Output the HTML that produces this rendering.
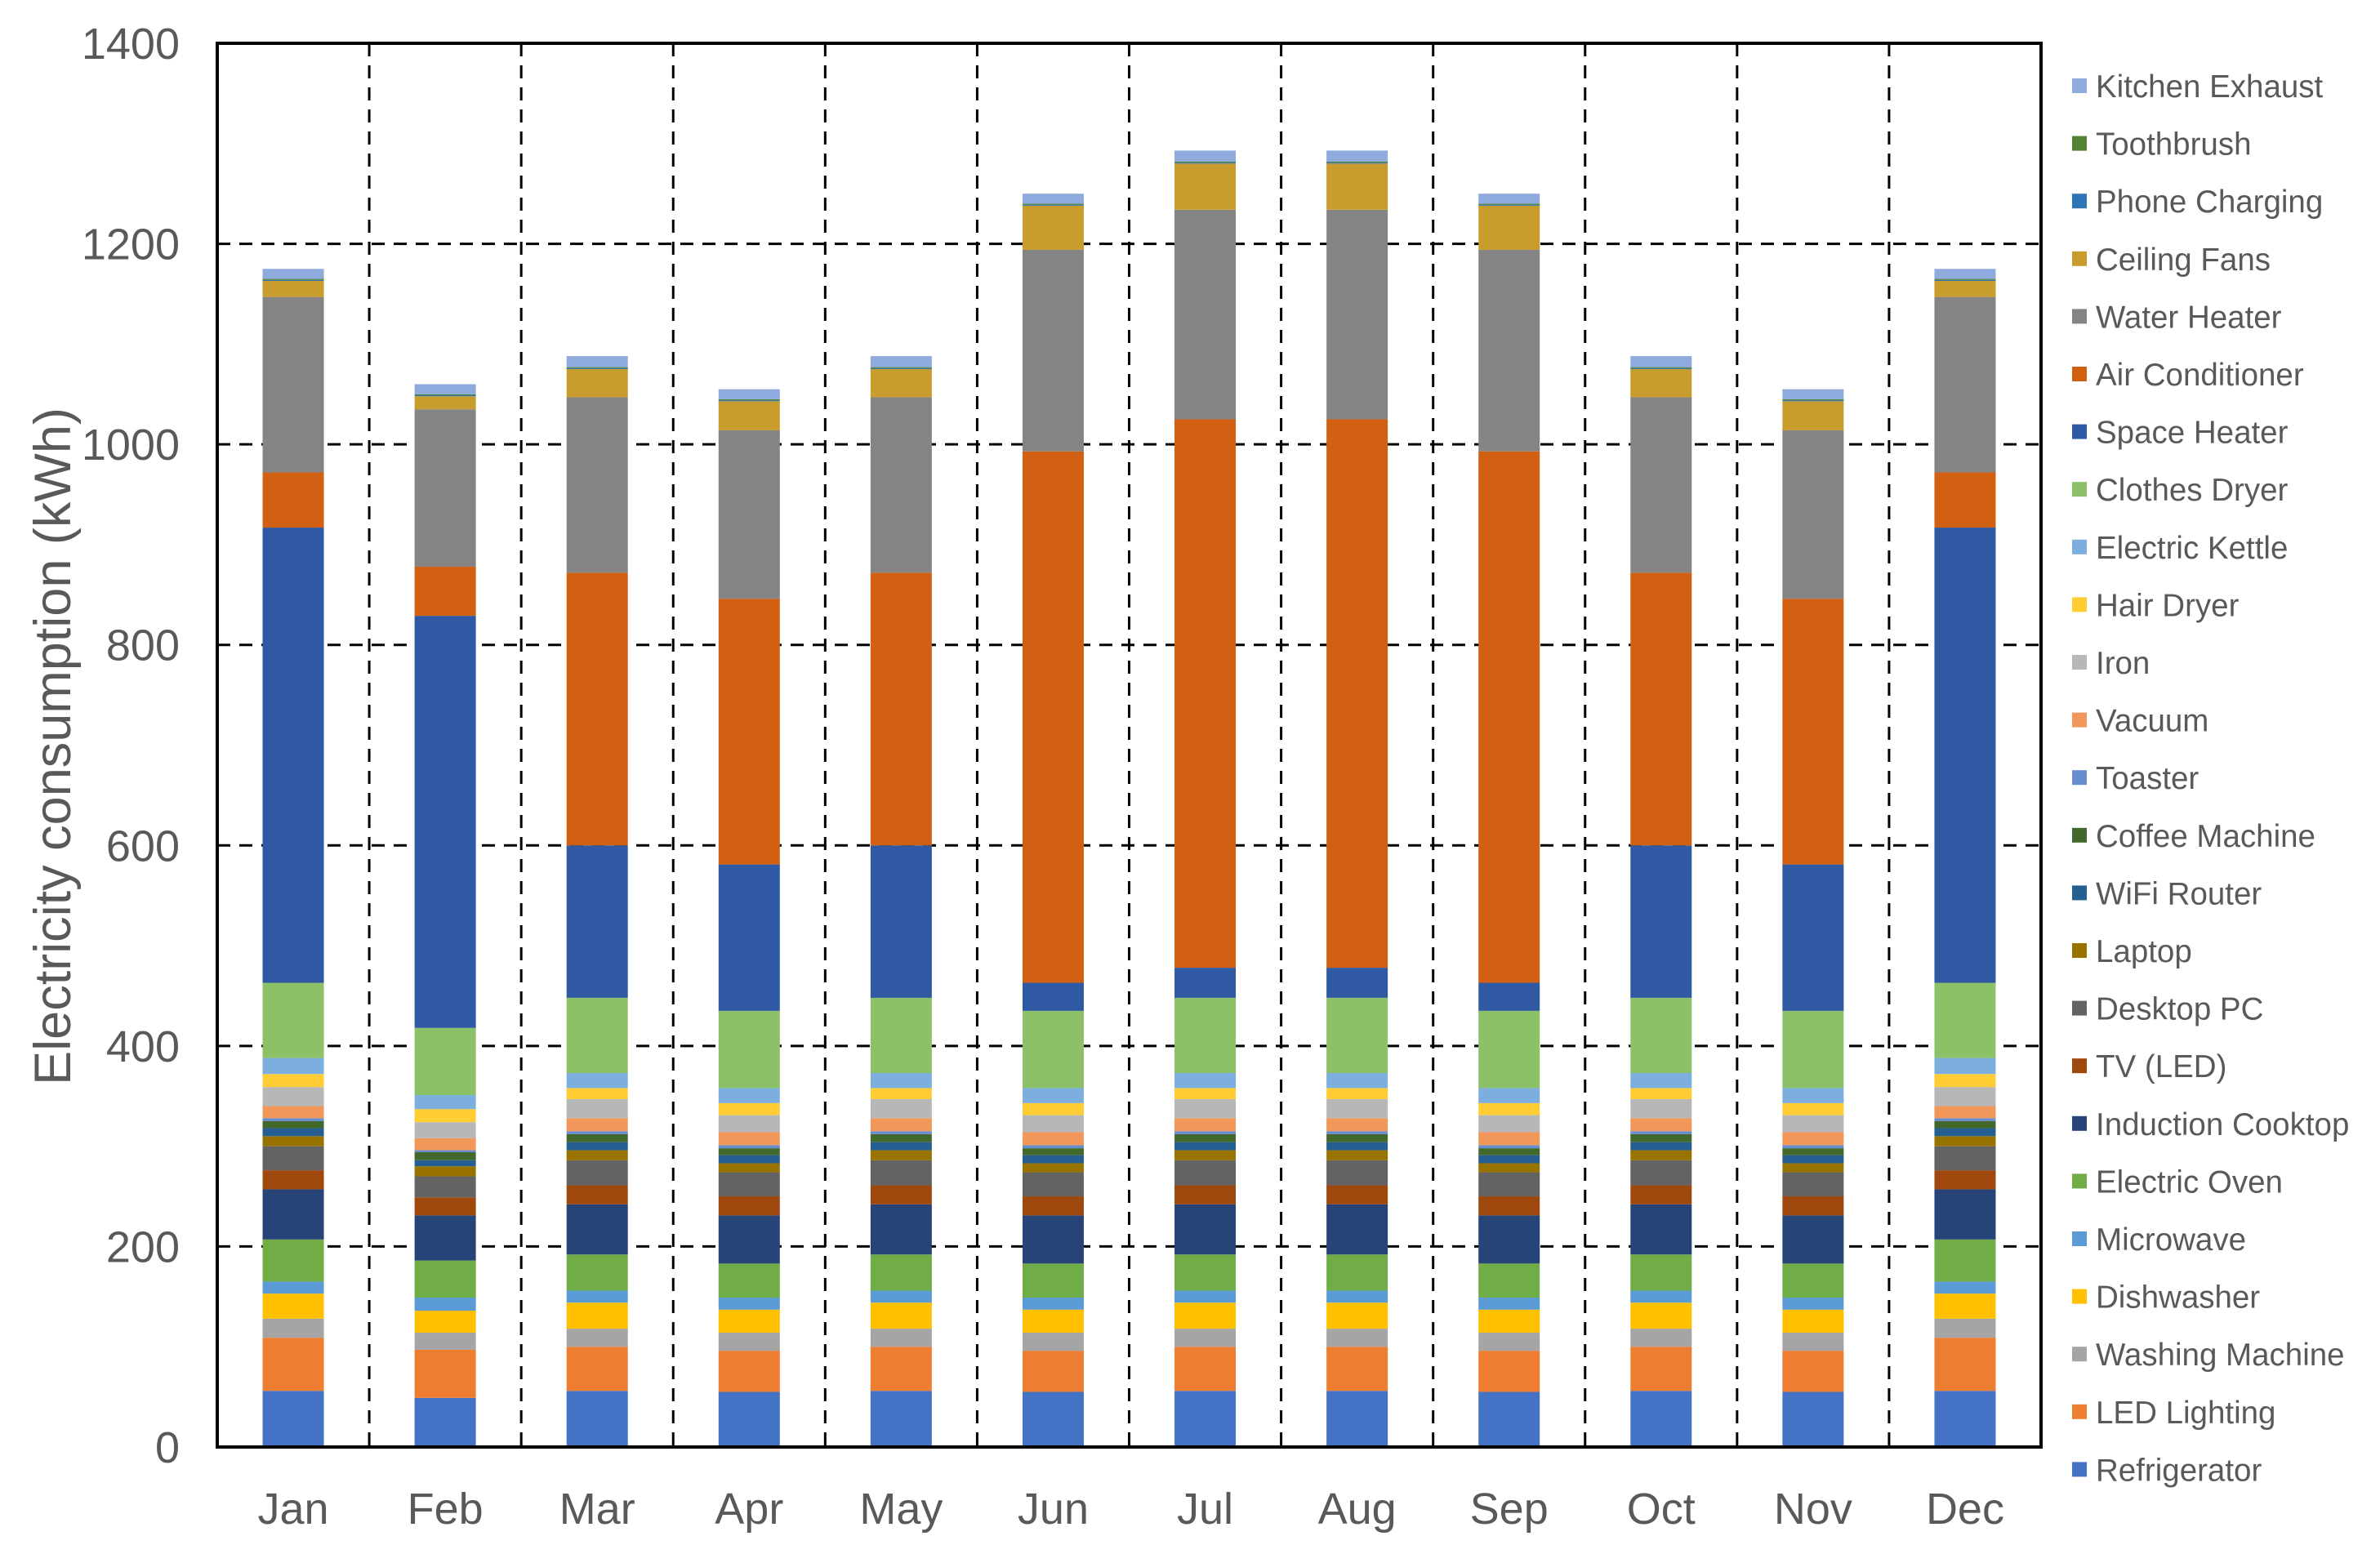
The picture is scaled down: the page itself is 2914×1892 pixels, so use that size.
<!DOCTYPE html>
<html><head><meta charset="utf-8"><style>
html,body{margin:0;padding:0;background:#fff;}
svg{display:block;font-family:"Liberation Sans",Arial,sans-serif;}
</style></head><body>
<svg id="chart" width="2914" height="1892" viewBox="0 0 2914 1892" xmlns="http://www.w3.org/2000/svg">
<g id="grid"></g>
<g id="bars"></g>
<g id="axes"></g>
<g id="legend"></g>
<text transform="translate(86,914) rotate(-90)" text-anchor="middle" font-size="63" fill="#595959">Electricity consumption (kWh)</text>
</svg>
<script>
const months = ["Jan","Feb","Mar","Apr","May","Jun","Jul","Aug","Sep","Oct","Nov","Dec"];
const yTicks = [0,200,400,600,800,1000,1200,1400];
const seriesNames = ["Refrigerator","LED Lighting","Washing Machine","Dishwasher","Microwave","Electric Oven","Induction Cooktop","TV (LED)","Desktop PC","Laptop","WiFi Router","Coffee Machine","Toaster","Vacuum","Iron","Hair Dryer","Electric Kettle","Clothes Dryer","Space Heater","Air Conditioner","Water Heater","Ceiling Fans","Phone Charging","Toothbrush","Kitchen Exhaust"];
const refrigerator = [56,49,56,55,56,55,56,56,55,56,55,56];
const ledLighting = [53,48,44,41,44,41,44,44,41,44,41,53];
const washingMachine = [19,17,18,18,18,18,18,18,18,18,18,19];
const dishwasher = [25,22,26,23,26,23,26,26,23,26,23,25];
const microwave = [12,13,12,12,12,12,12,12,12,12,12,12];
const electricOven = [42,37,36,34,36,34,36,36,34,36,34,42];
const inductionCooktop = [50,45,50,48,50,48,50,50,48,50,48,50];
const tvLed = [19,18,19,19,19,19,19,19,19,19,19,19];
const desktopPc = [24,21,25,24,25,24,25,25,24,25,24,24];
const laptop = [10,10,10,9,10,9,10,10,9,10,9,10];
const wifiRouter = [8,6,8,8,8,8,8,8,8,8,8,8];
const coffeeMachine = [7,8,8,7,8,7,8,8,7,8,7,7];
const toaster = [3,2,3,3,3,3,3,3,3,3,3,3];
const vacuum = [12,12,13,13,13,13,13,13,13,13,13,12];
const iron = [19,16,19,17,19,17,19,19,17,19,17,19];
const hairDryer = [13,13,11,12,11,12,11,11,12,11,12,13];
const electricKettle = [16,14,15,15,15,15,15,15,15,15,15,16];
const clothesDryer = [75,67,75,77,75,77,75,75,77,75,77,75];
const spaceHeater = [454,411,152,146,152,28,30,30,28,152,146,454];
const airConditioner = [55,49,272,265,272,530,547,547,530,272,265,55];
const waterHeater = [175,157,175,168,175,201,209,209,201,175,168,175];
const ceilingFans = [16,13,28,29,28,44,46,46,44,28,29,16];
const phoneCharging = [1,1,1,1,1,1,1,1,1,1,1,1];
const toothbrush = [1,1,1,1,1,1,1,1,1,1,1,1];
const kitchenExhaust = [10,10,11,10,11,10,11,11,10,11,10,10];
const seriesValues = [refrigerator,ledLighting,washingMachine,dishwasher,microwave,electricOven,inductionCooktop,tvLed,desktopPc,laptop,wifiRouter,coffeeMachine,toaster,vacuum,iron,hairDryer,electricKettle,clothesDryer,spaceHeater,airConditioner,waterHeater,ceilingFans,phoneCharging,toothbrush,kitchenExhaust];
const seriesColors = ["#4472C4","#ED7D31","#A5A5A5","#FFC000","#5B9BD5","#70AD47","#264478","#9E480E","#636363","#997300","#255E91","#43682B","#698ED0","#F1975A","#B7B7B7","#FFCD33","#7CAFDD","#8CC168","#2F5AA3","#D26012","#848484","#C99C2E","#2E75B6","#548235","#8FAADC"];

const NS="http://www.w3.org/2000/svg";
const L=266,R=2499,T=53,B=1772,YMAX=1400;
const catW=(R-L)/months.length, barW=75;
function yScale(v){return B-(v/YMAX)*(B-T);}
function xCenter(i){return L+catW*(i+0.5);}
function mk(tag,attrs,parent){const e=document.createElementNS(NS,tag);for(const k in attrs)e.setAttribute(k,attrs[k]);parent.appendChild(e);return e;}
const grid=document.getElementById('grid'),bars=document.getElementById('bars'),axes=document.getElementById('axes'),legend=document.getElementById('legend');

yTicks.forEach(t=>{
  const y=yScale(t);
  if(t>0&&t<YMAX){const g=mk('line',{x1:L,x2:R,y1:y,y2:y,stroke:'#000','stroke-width':3,'stroke-dasharray':'16 11'},grid);
    
    }
  const tx=mk('text',{x:220,y:y+19,'text-anchor':'end','font-size':54,fill:'#595959'},axes);
  tx.textContent=t;
  
  
});
for(let i=1;i<months.length;i++){
  const x=L+catW*i;
  const g=mk('line',{x1:x,x2:x,y1:T,y2:B,stroke:'#000','stroke-width':3,'stroke-dasharray':'16 11'},grid);
  
  
}
months.forEach((m,i)=>{
  let cum=0;
  seriesValues.forEach((arr,s)=>{
    const v=arr[i];const y1=yScale(cum),y2=yScale(cum+v);cum+=v;
    const r=mk('rect',{x:xCenter(i)-barW/2,y:y2,width:barW,height:Math.max(0,y1-y2),fill:seriesColors[s]},bars);
    
    
  });
  const tx=mk('text',{x:xCenter(i),y:1866,'text-anchor':'middle','font-size':54,fill:'#595959'},axes);
  tx.textContent=m;
  
  
});
const box=mk('rect',{x:L,y:T,width:R-L,height:B-T,fill:'none',stroke:'#000','stroke-width':4},axes);



for(let k=0;k<seriesNames.length;k++){
  const s=seriesNames.length-1-k;
  const y=105+k*70.6;
  const g=mk('g',{},legend);
  
  
  mk('rect',{x:2537,y:y-9,width:18,height:18,fill:seriesColors[s]},g);
  const t=mk('text',{x:2566,y:y+14,'font-size':38.5,fill:'#595959'},g);
  t.textContent=seriesNames[s];
}
</script>
</body></html>
